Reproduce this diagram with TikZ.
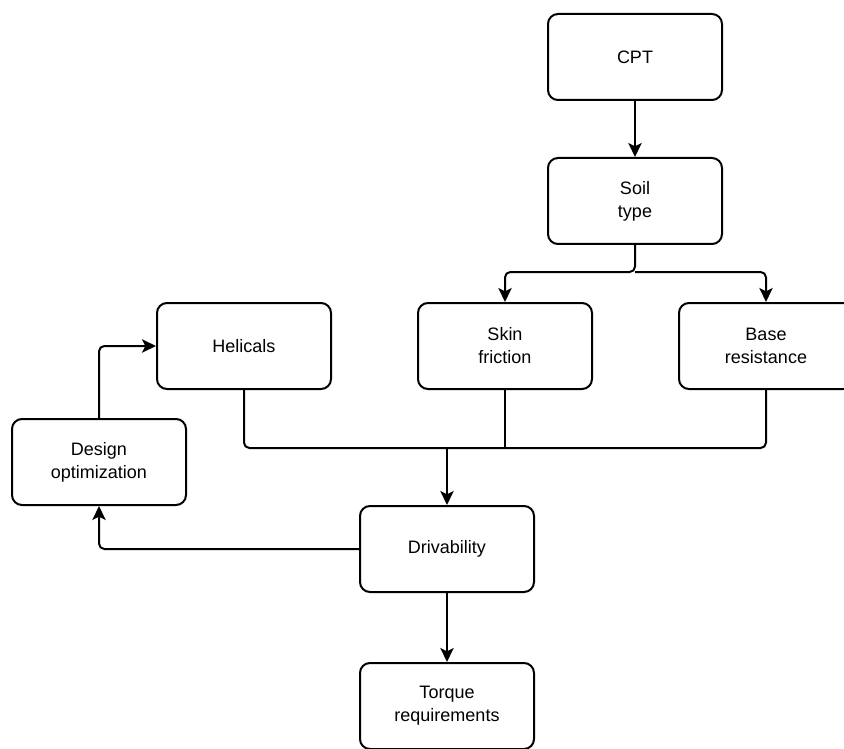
\documentclass[tikz,border=0pt]{standalone}
\usepackage{fontspec}
\setmainfont{Liberation Sans}
\usetikzlibrary{arrows.meta}

\begin{document}
\begin{tikzpicture}
  [x=0.75pt,y=-0.75pt,line width=1.5pt,
   box/.style={draw,rounded corners=7.5pt,minimum width=130.5pt,minimum height=64.5pt,
     inner sep=0pt,align=center,font=\fontsize{13.5pt}{17.25pt}\selectfont},
   arr/.style={-{Stealth[length=10.5pt,width=10pt,inset=2.5pt]},rounded corners=4pt},
   link/.style={rounded corners=4pt}]
  \useasboundingbox (0,0) rectangle (844,749);

  \node[box] (cpt) at (635,57) {CPT};
  \node[box] (soil) at (635,201) {Soil\\type};
  \node[box] (helicals) at (244,346) {Helicals};
  \node[box] (skin) at (505,346) {Skin\\friction};
  \node[box] (base) at (766,346) {Base\\resistance};
  \node[box] (design) at (99,462) {Design\\optimization};
  \node[box] (drive) at (447,549) {Drivability};
  \node[box] (torque) at (447,706) {Torque\\requirements};

  \coordinate (split) at (635,272);
  \coordinate (merge) at (447,448);

  \draw[arr] (cpt) -- (soil);
  \draw[arr] (soil.south) -- (split) -| (skin.north);
  \draw[arr] (split) -| (base.north);

  \draw[link] (helicals.south) |- (merge);
  \draw[link] (base.south) |- (merge);
  \draw (skin.south) -- (skin.south |- merge);
  \draw[arr] (merge) -- (drive.north);

  \draw[arr] (drive.west) -| (design.south);
  \draw[arr] (design.north) |- (helicals.west);
  \draw[arr] (drive) -- (torque);
\end{tikzpicture}
\end{document}
